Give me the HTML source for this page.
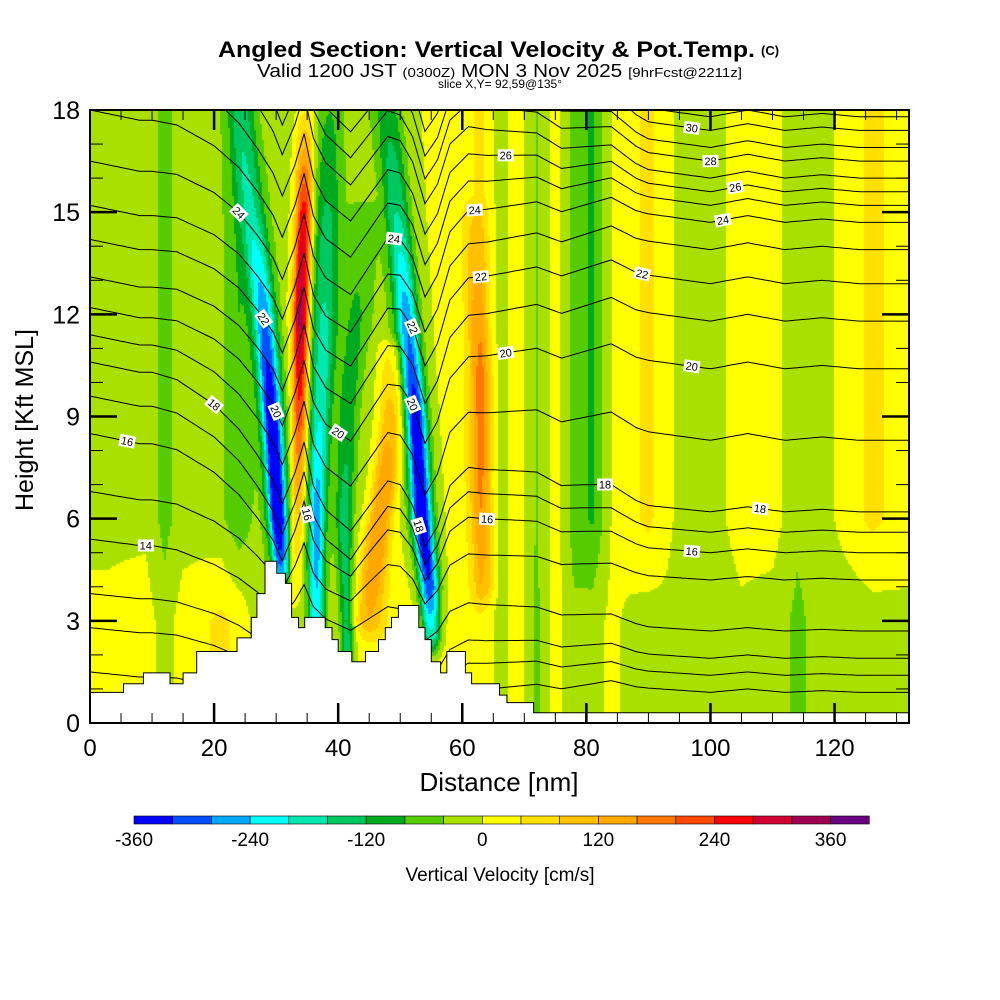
<!DOCTYPE html>
<html><head><meta charset="utf-8"><style>
html,body{margin:0;padding:0;background:#fff;}
#wrap{position:relative;width:1000px;height:1000px;overflow:hidden;font-family:"Liberation Sans",sans-serif;}
#field{position:absolute;left:90px;top:110px;}
svg{position:absolute;left:0;top:0;}
</style></head><body>
<div id="wrap">
<canvas id="field" width="819" height="613"></canvas>
<svg id="svg" width="1000" height="1000"></svg>
</div>
<script>
// ---- data ----
const binColors=["#0000ff","#0050ff","#00a8ff","#00ffff","#00e8b0","#00c860","#00aa20","#55cc00","#aae000","#ffff00","#ffe000","#ffc000","#ffa800","#ff7800","#ff4800","#ff0000","#d00030","#a00050","#6a0080"];
const cbarLabels=[-360,-240,-120,0,120,240,360];
const xTickLabels=[0,20,40,60,80,100,120];
const yTickLabels=[0,3,6,9,12,15,18];
// background vertical velocity per column (upper / lower layer)
const bgX   =[0,3,6,9,12,15,18,21,24,27,45,60,63,66,69,72,75,78,81,84,87,90,93,96,100,105,110,114,118,122,126,132];
const bgHigh=[-20,-20,-20,-10,-55,-20,-20,-30,-70,-20,-20,20,50,-20,20,-45,20,-60,-85,0,30,50,10,-20,-20,20,20,-30,-20,20,50,20];
const bgLow =[20,20,30,20,-20,20,30,50,30,-20,20,20,40,-20,20,-50,20,-30,-20,10,-10,-20,-10,-20,-30,-10,-20,-50,-20,-30,-20,-10];
// narrow updraft/downdraft bands: heights (kft), distance (nm), amplitude (cm/s), half width (nm)
const bandH=[[4.5,6,9,12,15,18],[4,6,9,12,15,18],[2,6,9,12,15,18],[2,6,9,12,15],[3,5,7,9,11],[2.5,4,6,9,12,15,18],[4,7,10,12,15]];
const bandD=[[30.8,30.3,29.3,28,26.2,24.5],[33,33.5,33.8,34,34.5,34.8],[36.5,36.5,37,37.5,38,38.5],[41.5,41,41.5,43,44],[45,46,47.5,48.5,48.5],[55,54.7,53.5,52.5,51,49.5,48],[63.5,63,63,62.5,62]];
const bandA=[[-260,-380,-350,-260,-140,-80],[60,120,260,380,300,60],[-220,-250,-180,-150,-110,-60],[-150,-120,-80,-60,-40],[100,160,170,120,60],[-200,-330,-380,-360,-260,-150,-90],[80,120,130,100,40]];
const bandW=[[1.2,1.3,1.5,1.6,1.8,2],[1.0,1.0,1.1,1.2,1.2,1.4],[1.2,1.2,1.5,2,2,2],[1,1.2,1.5,2,2],[2,2,1.8,1.8,2],[1.3,1.4,1.5,1.5,1.6,1.8,2],[1.5,1.5,1.5,1.5,2]];
// potential temperature levels: height (kft) at left and right profile
const thetaLevels=[11,12,13,14,15,16,17,18,19,20,21,22,23,24,25,26,27,28,29,30,31];
const thetaLeft  =[1.5,2.8,3.8,5.4,6.8,8.5,9.6,10.6,11.4,12.2,13.1,14.2,15.2,16.5,18,19.5,21,22,23,24,25];
const thetaRight =[0.9,1.4,1.9,2.7,4.2,5.0,5.6,6.2,8.3,10.4,11.8,12.9,13.9,14.7,15.2,15.6,16.0,16.5,16.9,17.4,17.8];
const dispX=[0,8,14,20,24,27,29.5,31,33,34.5,36,38,40,42,45,48,50,52,54,56,58,61,64,68,72,76,80,84,88,92,96,100,106,112,118,124,132];
const dispV=[0,-0.3,-0.3,-0.7,-1.2,-1.8,-2.4,-3.0,-2.0,-1.0,-2.2,-2.8,-3.0,-3.2,-2.3,-1.4,-1.4,-1.9,-3.0,-2.3,-1.0,-0.3,-0.2,0,0.2,0,0.3,0.6,0.3,0.2,0.1,0,0.2,0,0.1,0,0];
const labelLevels=[14,16,18,24,22,20,16,20,24,22,20,18,16,22,24,26,20,18,16,18,20,22,24,26,28,30];
const labelX     =[9,6,20,24,28,30,35,40,49,52,52,53,64,63,62,67,67,83,97,108,97,89,102,104,100,97];
// terrain steps: start distance, height
const terrainX=[0,5.4,8.6,12.9,15,17.2,23.7,26,26.9,28.2,30.1,31.5,32.5,33.6,34.6,37.9,39,40,42.2,44.4,46.5,47.6,48.6,49.7,53,54,55,56.5,57.5,60.5,61.5,66,67.2,71.5];
const terrainH=[0.9,1.15,1.47,1.15,1.47,2.1,2.5,3.1,3.8,4.75,4.4,4.1,3.1,2.8,3.1,2.8,2.45,2.1,1.8,2.1,2.45,2.8,3.1,3.45,2.8,2.45,1.8,1.47,2.1,1.47,1.15,0.82,0.6,0.3];

// ---- axes ----
const X0=90,X1=909,Y0=723,Y1=110,XMAX=132,YMAX=18;
const sx=d=>X0+d*(X1-X0)/XMAX, sy=h=>Y0-h*(Y0-Y1)/YMAX;
const cx=(X1-X0)/XMAX, cy=(Y0-Y1)/YMAX;
function interp(xs,vs,x){if(x<=xs[0])return vs[0];for(let i=1;i<xs.length;i++){if(x<=xs[i]){const t=(x-xs[i-1])/(xs[i]-xs[i-1]);return vs[i-1]+t*(vs[i]-vs[i-1]);}}return vs[vs.length-1];}
function colorOf(v){let k=Math.floor((v+360)/40);k=Math.max(0,Math.min(18,k));return binColors[k];}

function velocity(d,h){
  const wl=Math.max(0,Math.min(1,(h-3)/3));
  let v=interp(bgX,bgLow,d)*(1-wl)+interp(bgX,bgHigh,d)*wl;
  for(let b=0;b<bandH.length;b++){
    const H=bandH[b];if(h<H[0]-0.8||h>H[H.length-1]+0.5)continue;
    let a=interp(H,bandA[b],h);
    if(h<H[0])a*=1-(H[0]-h)/0.8; if(h>H[H.length-1])a*=1-(h-H[H.length-1])/0.5;
    const c=interp(H,bandD[b],h),w=interp(H,bandW[b],h),r=(d-c)/w;
    v+=a/(1+r*r*r*r*0.6+r*r*0.4);
  }
  return v;
}
const cv=document.getElementById('field'),ctx=cv.getContext('2d');
const step=2;
for(let py=0;py<613;py+=step){for(let px=0;px<819;px+=step){
  const d=(px+1)/cx,h=(613-py-1)/cy;ctx.fillStyle=colorOf(velocity(d,h));ctx.fillRect(px,py,step,step);}}

const NS='http://www.w3.org/2000/svg',svg=document.getElementById('svg');
function el(tag,attrs,parent){const e=document.createElementNS(NS,tag);for(const k in attrs)e.setAttribute(k,attrs[k]);(parent||svg).appendChild(e);return e;}
const defs=el('defs',{});const cp=el('clipPath',{id:'plotclip'},defs);el('rect',{x:X0,y:Y1,width:X1-X0,height:Y0-Y1},cp);

function thetaH(i,d){const t=Math.max(0,Math.min(1,(d-10)/80));const base=thetaLeft[i]*(1-t)+thetaRight[i]*t;const f=Math.max(0.5,Math.min(1,(base-1)/7));return base+interp(dispX,dispV,d)*f;}
const cg=el('g',{'clip-path':'url(#plotclip)'});

thetaLevels.forEach((L,i)=>{
  let p='';for(let d=0;d<=XMAX;d+=0.5){p+=(d?'L':'M')+sx(d).toFixed(1)+','+sy(thetaH(i,d)).toFixed(1);}
  const path=el('path',{d:p,fill:'none',stroke:'#000','stroke-width':1},cg);
  
  
});
let tp='M'+sx(0)+','+sy(0);
terrainX.forEach((x,i)=>{const nx=i+1<terrainX.length?terrainX[i+1]:XMAX;tp+='L'+sx(x).toFixed(1)+','+sy(terrainH[i]).toFixed(1)+'L'+sx(nx).toFixed(1)+','+sy(terrainH[i]).toFixed(1);});
tp+='L'+sx(XMAX)+','+sy(0)+'Z';
const terr=el('path',{d:tp,fill:'#fff',stroke:'#000','stroke-width':1});

labelLevels.forEach((L,j)=>{
  const i=thetaLevels.indexOf(L),d=labelX[j],h=thetaH(i,d);
  if(h>17.6||h<0.5)return;
  const dy=sy(thetaH(i,d+0.5))-sy(thetaH(i,d-0.5)),ang=Math.atan2(dy,cx)*180/Math.PI;
  const g=el('g',{transform:`translate(${sx(d).toFixed(1)},${sy(h).toFixed(1)}) rotate(${ang.toFixed(1)})`});
  
  el('rect',{x:-8,y:-6,width:16,height:12,fill:'#fff'},g);
  const t=el('text',{x:0,y:4,'font-size':11,'text-anchor':'middle','font-family':'Liberation Sans, sans-serif'},g);t.textContent=L;
});
const fr=el('rect',{x:X0,y:Y1,width:X1-X0,height:Y0-Y1,fill:'none',stroke:'#000','stroke-width':2});

const tg=el('g',{stroke:'#000'});
for(let d=5;d<XMAX;d+=5){const maj=d%20===0,L=maj?20:10,w=maj?2.5:1;
  el('line',{x1:sx(d),x2:sx(d),y1:Y0,y2:Y0-L,'stroke-width':w},tg);el('line',{x1:sx(d),x2:sx(d),y1:Y1,y2:Y1+L,'stroke-width':w},tg);}
for(let h=1;h<YMAX;h++){const maj=h%3===0,L=maj?27:13,w=maj?2.5:1;
  el('line',{x1:X0,x2:X0+L,y1:sy(h),y2:sy(h),'stroke-width':w},tg);el('line',{x1:X1,x2:X1-L,y1:sy(h),y2:sy(h),'stroke-width':w},tg);}
xTickLabels.forEach(v=>{const t=el('text',{x:sx(v),y:756,'font-size':24,'text-anchor':'middle'});t.textContent=v;
  });
yTickLabels.forEach(v=>{const t=el('text',{x:80,y:sy(v)+9,'font-size':25,'text-anchor':'end'});t.textContent=v;
  });
const CB0=134,CBW=38.7,CBY=816;
binColors.forEach((c,k)=>{const r=el('rect',{x:CB0+k*CBW,y:CBY,width:CBW,height:8,fill:c,stroke:'#000','stroke-width':0.6});
  });
cbarLabels.forEach(v=>{const t=el('text',{x:CB0+(v+360)/40*CBW,y:846,'font-size':19,'text-anchor':'middle'});t.textContent=v;
  });
</script>
<svg width="1000" height="1000" style="position:absolute;left:0;top:0;pointer-events:none" font-family="Liberation Sans, sans-serif">
<text x="218" y="57" font-size="22" font-weight="bold" textLength="537" lengthAdjust="spacingAndGlyphs">Angled Section: Vertical Velocity &amp; Pot.Temp.</text>
<text x="761" y="55" font-size="13" font-weight="bold">(C)</text>
<text x="257" y="77" font-size="18" textLength="485" lengthAdjust="spacingAndGlyphs">Valid 1200 JST <tspan font-size="13">(0300Z)</tspan> MON 3 Nov 2025 <tspan font-size="13">[9hrFcst@2211z]</tspan></text>
<text x="500" y="88" text-anchor="middle" font-size="12">slice X,Y= 92,59@135°</text>
<text x="499" y="791" text-anchor="middle" font-size="26">Distance [nm]</text>
<text x="0" y="0" text-anchor="middle" font-size="25" transform="translate(33,420) rotate(-90)">Height [Kft MSL]</text>
<text x="500" y="881" text-anchor="middle" font-size="19">Vertical Velocity [cm/s]</text>
</svg>
</body></html>
